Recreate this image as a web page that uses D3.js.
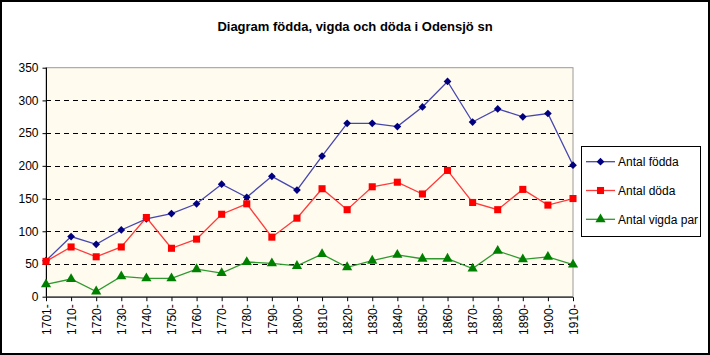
<!DOCTYPE html>
<html><head><meta charset="utf-8">
<script src="https://cdn.jsdelivr.net/npm/d3@7"></script>
<style>body{margin:0;background:#fff}svg{display:block}text{font-family:Arial,"Liberation Sans",sans-serif}</style>
</head><body>
<script>
const categories = ["1701-","1710-","1720-","1730-","1740-","1750-","1760-","1770-","1780-","1790-","1800-","1810-","1820-","1830-","1840-","1850-","1860-","1870-","1880-","1890-","1900-","1910-"];
const fodda = [55,92,80,102,119,127,142,172,152,184,163,215,265,265,260,290,329,267,287,275,280,201];
const doda  = [54,76,61,76,121,74,88,126,142,91,120,165,133,168,175,157,193,144,133,164,140,150];
const vigda = [19,27,8,31,28,28,42,36,53,51,47,65,45,55,64,58,58,43,70,57,61,49];
const yTicks = [0,50,100,150,200,250,300,350];
const seriesNames = ["Antal födda","Antal döda","Antal vigda par"];
const title = "Diagram födda, vigda och döda i Odensjö sn";

const W=710,H=355;
const svg=d3.select("body").append("svg").attr("width",W).attr("height",H);
svg.append("rect").attr("x",1).attr("y",1).attr("width",W-2).attr("height",H-2).attr("fill","#fff").attr("stroke","#000").attr("stroke-width",2);

const L=46,R=573,T=67.7,B=296.7;
const x=d3.scalePoint().domain(categories).range([L,R]);
const y=d3.scaleLinear().domain([0,350]).range([B,T]);

svg.append("rect").attr("x",L).attr("y",T).attr("width",R-L).attr("height",B-T).attr("fill","#FFFBEE").attr("stroke","#9a9a9a").attr("stroke-width",1);

svg.append("g").selectAll("line").data(yTicks.filter(d=>d>0&&d<350)).join("line")
 .attr("x1",L).attr("x2",R).attr("y1",d=>Math.round(y(d))+0.5).attr("y2",d=>Math.round(y(d))+0.5)
 .attr("stroke","#000").attr("stroke-dasharray","5,4");

const ya=svg.append("g").attr("transform",`translate(${L+0.5},0)`).call(d3.axisLeft(y).tickValues(yTicks).tickSize(4).tickPadding(4));
ya.selectAll("text").attr("font-size",12).attr("fill","#000").attr("font-family","Arial, Liberation Sans, sans-serif");
ya.selectAll("line,path").attr("stroke","#000");
ya.select("path").attr("d",`M0,${T}V${B}`);

const xa=svg.append("g").attr("transform",`translate(0,${B+0.5})`).call(d3.axisBottom(x).tickSize(4).tickSizeOuter(0));
xa.selectAll("line,path").attr("stroke","#000");
xa.select("path").attr("d",`M${L},0H${R}`);
xa.selectAll("text").attr("font-size",12).attr("fill","#000").attr("font-family","Arial, Liberation Sans, sans-serif")
 .attr("transform","rotate(-90)").attr("text-anchor","end").attr("x",-7).attr("y",0).attr("dy","0.35em");

const series=[
 {name:seriesNames[0],vals:fodda,line:"#4646B0",mark:"#000080",shape:d3.symbolSquare,size:30,rot:45},
 {name:seriesNames[1],vals:doda,line:"#FF3A3A",mark:"#FF0000",shape:d3.symbolSquare,size:50,rot:0},
 {name:seriesNames[2],vals:vigda,line:"#2E9A2E",mark:"#008000",shape:d3.symbolTriangle,size:45,rot:0}
];
const line=d3.line().x((d,i)=>x(categories[i])).y(d=>y(d));
series.forEach(s=>{
  svg.append("path").attr("d",line(s.vals)).attr("fill","none").attr("stroke",s.line).attr("stroke-width",1.3);
  svg.append("g").selectAll("path").data(s.vals).join("path")
   .attr("transform",(d,i)=>`translate(${x(categories[i])},${y(d)}) rotate(${s.rot})`)
   .attr("d",d3.symbol().type(s.shape).size(s.size)).attr("fill",s.mark);
});

svg.append("text").attr("x",355).attr("y",31).attr("text-anchor","middle").attr("font-size",13).attr("font-weight","bold").text(title);

const lg=svg.append("g");
lg.append("rect").attr("x",581.5).attr("y",146.5).attr("width",119).attr("height",90).attr("fill","#fff").attr("stroke","#000");
series.forEach((s,i)=>{
  const yy=161.7+i*28.8;
  lg.append("line").attr("x1",586).attr("x2",615).attr("y1",yy).attr("y2",yy).attr("stroke",s.line).attr("stroke-width",1.3);
  lg.append("path").attr("transform",`translate(600.5,${yy}) rotate(${s.rot})`).attr("d",d3.symbol().type(s.shape).size(s.size)).attr("fill",s.mark);
  lg.append("text").attr("x",618).attr("y",yy).attr("dy","0.35em").attr("font-size",12).text(s.name);
});
</script>
</body></html>
